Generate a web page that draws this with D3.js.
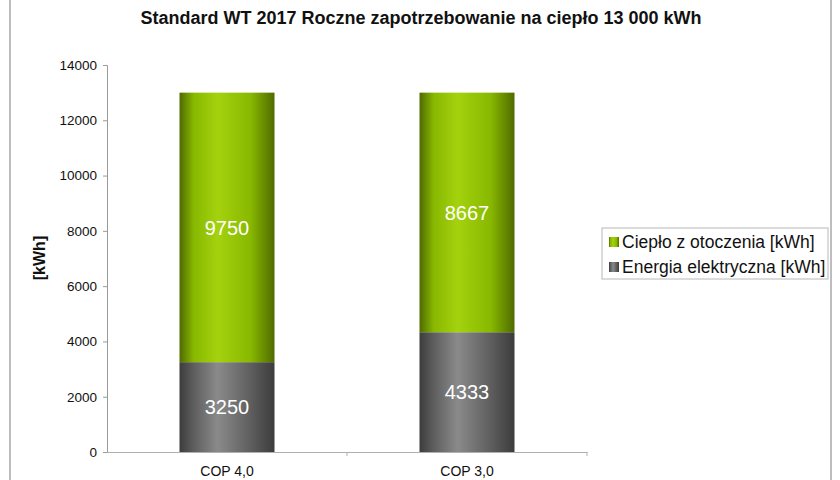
<!DOCTYPE html>
<html>
<head>
<meta charset="utf-8">
<script src="https://cdn.jsdelivr.net/npm/d3@7"></script>
<style>
  body { margin: 0; background: #fff; }
  text { font-family: "Liberation Sans", Arial, sans-serif; }
</style>
</head>
<body>
<script>
// Stacked cylinder-style bar chart: heat demand split per COP

// data
var categories = ["COP 4,0", "COP 3,0"];
var seriesNames = ["Energia elektryczna [kWh]", "Ciepło z otoczenia [kWh]"];
var electric = [3250, 4333];
var ambient = [9750, 8667];
var yTicks = [0, 2000, 4000, 6000, 8000, 10000, 12000, 14000];

window.onload = function(){

    var w = 840,
        h = 480;

    var svg = d3.select("body")
        .append("svg")
        .attr("width", w)
        .attr("height", h);

    // gradients for the bars
    var defs = svg.append("defs");
    function addGrad(id, edge, mid, light){
        var g = defs.append("linearGradient")
            .attr("id", id)
            .attr("x1", "0%").attr("x2", "100%")
            .attr("y1", "0%").attr("y2", "0%");
        g.append("stop").attr("offset", "0%").attr("stop-color", edge);
        g.append("stop").attr("offset", "15%").attr("stop-color", mid);
        g.append("stop").attr("offset", "40%").attr("stop-color", light);
        g.append("stop").attr("offset", "75%").attr("stop-color", mid);
        g.append("stop").attr("offset", "100%").attr("stop-color", edge);
    }
    addGrad("gradGreen", "#4f6b00", "#88b800", "#a4d20e");
    addGrad("gradGrey", "#3c3c3c", "#5e5e5e", "#8a8a8a");

    // outer chart frame
    svg.append("rect")
        .attr("x", 10)
        .attr("y", -5)
        .attr("width", 821)
        .attr("height", 500)
        .style("fill", "none")
        .style("stroke", "#a8a8a8")
        .style("stroke-width", 1.5);

    // scales
    var x = d3.scaleBand()
        .domain(categories)
        .range([107, 587])
        .paddingInner(0)
        .paddingOuter(0);

    var y = d3.scaleLinear()
        .domain([0, 14000])
        .range([452, 65]);

    var barW = 95;

    // y axis
    var yAxis = svg.append("g")
        .attr("transform", "translate(107,0)")
        .call(d3.axisLeft(y).tickValues(yTicks).tickSize(4).tickPadding(6).tickFormat(d3.format("d")));
    yAxis.select(".domain").style("stroke", "#9a9a9a");
    yAxis.selectAll(".tick line").style("stroke", "#9a9a9a");
    yAxis.selectAll(".tick text")
        .style("font-size", "13.5px")
        .style("fill", "#111");

    // stacked bars
    var stackData = categories.map(function(c, i){
        return { cat: c, electric: electric[i], ambient: ambient[i] };
    });
    var stack = d3.stack().keys(["electric", "ambient"])(stackData);
    var fills = ["url(#gradGrey)", "url(#gradGreen)"];

    var layers = svg.selectAll(".layer")
        .data(stack)
        .enter()
        .append("g")
        .attr("class", "layer")
        .style("fill", function(d, i){ return fills[i]; });

    layers.selectAll("rect")
        .data(function(d){ return d; })
        .enter()
        .append("rect")
        .attr("x", function(d){ return x(d.data.cat) + (x.bandwidth() - barW) / 2; })
        .attr("y", function(d){ return y(d[1]); })
        .attr("width", barW)
        .attr("height", function(d){ return y(d[0]) - y(d[1]); });

    layers.selectAll(".val")
        .data(function(d){ return d; })
        .enter()
        .append("text")
        .attr("class", "val")
        .attr("x", function(d){ return x(d.data.cat) + x.bandwidth() / 2; })
        .attr("y", function(d){ return (y(d[0]) + y(d[1])) / 2; })
        .attr("dy", "0.36em")
        .attr("text-anchor", "middle")
        .style("fill", "#fff")
        .style("font-size", "20px")
        .text(function(d){ return d[1] - d[0]; });

    // x axis
    var xAxis = svg.append("g")
        .attr("transform", "translate(0,452)")
        .call(d3.axisBottom(x).tickSize(0).tickPadding(14));
    xAxis.select(".domain").style("stroke", "#b0b0b0");
    xAxis.selectAll(".tick text")
        .style("font-size", "14px")
        .style("fill", "#111");
    // category separators
    svg.selectAll(".sep")
        .data([107 + x.bandwidth(), 587])
        .enter()
        .append("line")
        .attr("x1", function(d){ return d; })
        .attr("x2", function(d){ return d; })
        .attr("y1", 452)
        .attr("y2", 456)
        .style("stroke", "#b0b0b0");

    // title
    svg.append("text")
        .attr("x", 421)
        .attr("y", 24)
        .attr("text-anchor", "middle")
        .style("font-size", "18px")
        .style("font-weight", "bold")
        .style("fill", "#111")
        .text("Standard WT 2017 Roczne zapotrzebowanie na ciepło 13 000 kWh");

    // y label
    svg.append("text")
        .attr("transform", "translate(45,258) rotate(-90)")
        .attr("text-anchor", "middle")
        .style("font-size", "16px")
        .style("font-weight", "bold")
        .style("fill", "#111")
        .text("[kWh]");

    // legend
    var legend = svg.append("g");
    legend.append("rect")
        .attr("x", 602)
        .attr("y", 228)
        .attr("width", 226)
        .attr("height", 51)
        .style("fill", "#fff")
        .style("stroke", "#b8b8b8");

    var legendItems = [
        { name: seriesNames[1], fill: "url(#gradGreen)" },
        { name: seriesNames[0], fill: "url(#gradGrey)" }
    ];
    var li = legend.selectAll(".li")
        .data(legendItems)
        .enter()
        .append("g")
        .attr("class", "li")
        .attr("transform", function(d, i){ return "translate(609," + (242 + i * 25) + ")"; });
    li.append("rect")
        .attr("x", 0)
        .attr("y", -5)
        .attr("width", 10)
        .attr("height", 10)
        .style("fill", function(d){ return d.fill; });
    li.append("text")
        .attr("x", 13)
        .attr("dy", "0.35em")
        .style("font-size", "17.5px")
        .style("fill", "#111")
        .text(function(d){ return d.name; });
};
</script>
</body>
</html>
